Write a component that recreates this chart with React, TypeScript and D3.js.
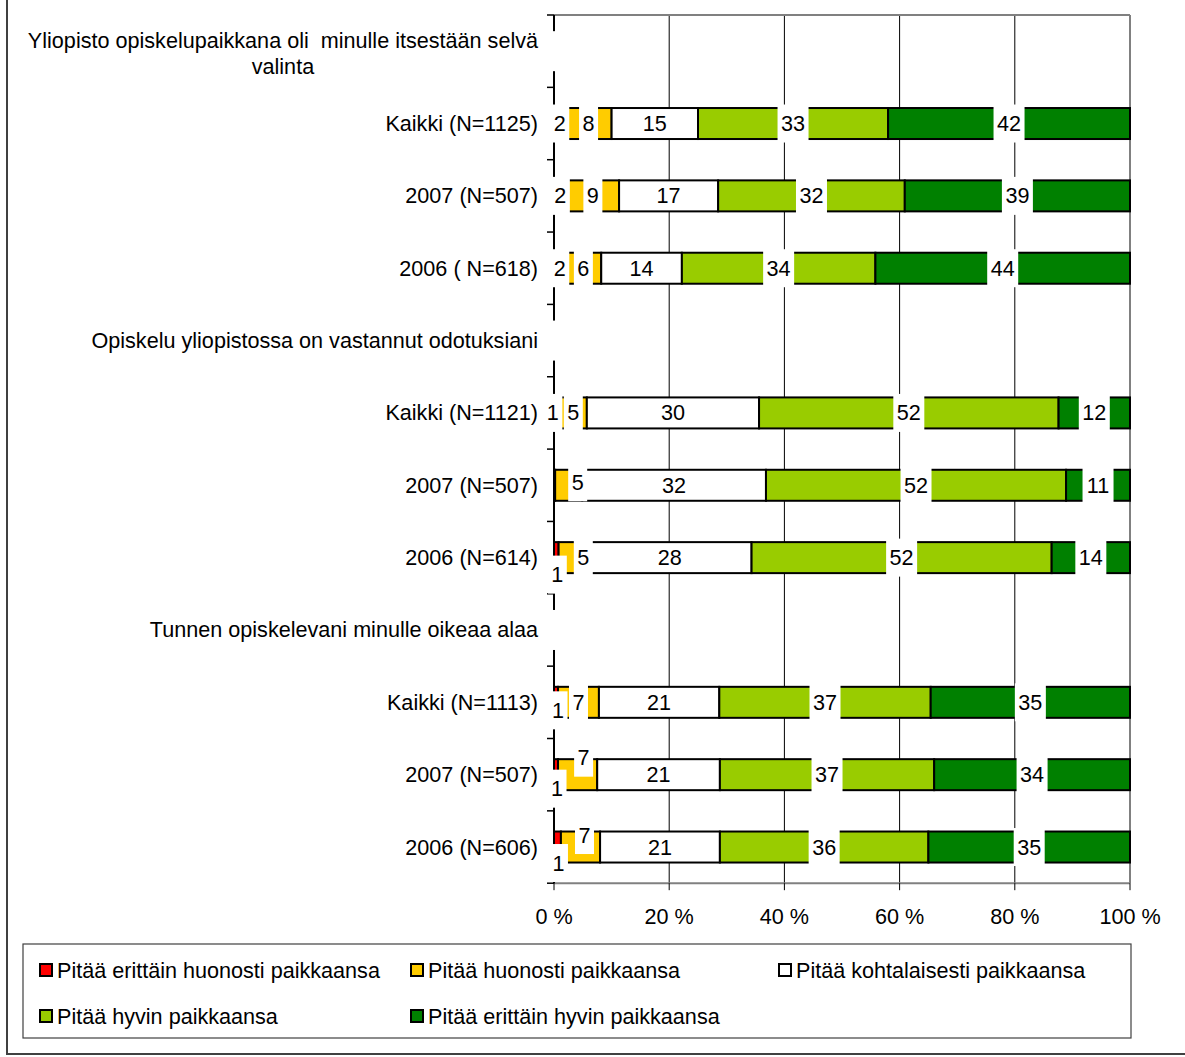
import React, { useLayoutEffect, useRef, useState } from 'react';
import * as d3 from 'd3';

// ---- data ----
const categories = [
  'Yliopisto opiskelupaikkana oli  minulle itsestään selvä\nvalinta',
  'Kaikki (N=1125)',
  '2007 (N=507)',
  '2006 ( N=618)',
  'Opiskelu yliopistossa on vastannut odotuksiani',
  'Kaikki (N=1121)',
  '2007 (N=507)',
  '2006 (N=614)',
  'Tunnen opiskelevani minulle oikeaa alaa',
  'Kaikki (N=1113)',
  '2007 (N=507)',
  '2006 (N=606)',
];

const seriesNames = [
  'Pitää erittäin huonosti paikkaansa',
  'Pitää huonosti paikkaansa',
  'Pitää kohtalaisesti paikkaansa',
  'Pitää hyvin paikkaansa',
  'Pitää erittäin hyvin paikkaansa',
];

const veryPoor = [null, 2, 2.2, 2, null, 1, 0.2, 0.8, null, 0.7, 0.7, 1.2];
const poor = [null, 8, 9.1, 6.2, null, 4.7, 4.7, 5.1, null, 7.1, 6.8, 6.8];
const moderate = [null, 15, 17.2, 14, null, 29.9, 31.9, 28.4, null, 20.9, 21.3, 20.8];
const good = [null, 33, 32.4, 33.6, null, 52, 52.1, 52.1, null, 36.7, 37.2, 36.2];
const veryGood = [null, 42, 39.1, 44.2, null, 12.4, 11.1, 13.6, null, 34.6, 34.0, 35.0];

const tickValues = [0, 20, 40, 60, 80, 100];
const tickLabels = ['0 %', '20 %', '40 %', '60 %', '80 %', '100 %'];

// ---- styling / layout ----
const seriesColors = ['#FF0000', '#FFCC00', '#FFFFFF', '#99CC00', '#008000'];
const FONT = '"Liberation Sans", Arial, sans-serif';
const FS = 21.6;
// nudges for overlapping small labels: key `${row}-${series}` -> [dx, dy]
const labelNudge: Record<string, [number, number]> = {
  '5-0': [-4, 0],
  '6-1': [9, -3],
  '7-0': [1, 17],
  '7-1': [10, 0],
  '9-0': [2, 8],
  '10-0': [1, 14],
  '10-1': [6, -17],
  '11-0': [1, 16],
  '11-1': [4, -12],
};

const keys = ['s0', 's1', 's2', 's3', 's4'];
const seriesArrays = [veryPoor, poor, moderate, good, veryGood];

export default function App() {
  const W = 1185;
  const H = 1057;
  const x = d3.scaleLinear().domain([0, 100]).range([554, 1130]);
  const y = d3
    .scaleBand<number>()
    .domain(d3.range(categories.length))
    .range([15, 883.2]);
  const bw = y.bandwidth();
  const barH = 31;
  const yc = (i: number) => (y(i) as number) + bw / 2;

  const table = categories.map((c, i) => {
    const o: any = { i };
    keys.forEach((k, j) => (o[k] = seriesArrays[j][i] ?? 0));
    return o;
  });
  const stacked = d3.stack<any>().keys(keys)(table);
  const isHeader = (i: number) => veryPoor[i] === null;

  const line1Ref = useRef<SVGTextElement>(null);
  const [line1W, setLine1W] = useState(508);
  useLayoutEffect(() => {
    if (line1Ref.current) setLine1W(line1Ref.current.getComputedTextLength());
  }, []);

  const labelRight = 538;
  const yBottom = 883.2;
  const yTop = 15;

  const legendCols = [57, 428, 796];
  const legendRows = [970, 1016];

  return (
    <svg
      width={W}
      height={H}
      style={{ position: 'absolute', left: 0, top: 0, background: '#fff' }}
      fontFamily={FONT}
    >
      <rect x={0} y={0} width={W} height={H} fill="#fff" />
      {/* outer frame */}
      <rect x={7} y={-5} width={1190} height={1059} fill="none" stroke="#404040" strokeWidth={2} />

      {/* gridlines */}
      {tickValues.slice(1, -1).map((t) => (
        <line key={t} x1={x(t)} x2={x(t)} y1={yTop} y2={yBottom} stroke="#000" strokeWidth={1} />
      ))}
      {/* plot border top/right */}
      <line x1={x(0)} x2={x(100)} y1={yTop} y2={yTop} stroke="#808080" strokeWidth={2} />
      <line x1={x(100)} x2={x(100)} y1={yTop} y2={yBottom} stroke="#808080" strokeWidth={2} />

      {/* x axis */}
      <line x1={x(0)} x2={x(100)} y1={yBottom} y2={yBottom} stroke="#808080" strokeWidth={2} />
      {tickValues.map((t) => (
        <line key={t} x1={x(t)} x2={x(t)} y1={yBottom} y2={yBottom + 7} stroke="#000" strokeWidth={1} />
      ))}
      {tickValues.map((t, i) => (
        <text key={t} x={x(t)} y={916} fontSize={FS} textAnchor="middle" dominantBaseline="central" fill="#000">
          {tickLabels[i]}
        </text>
      ))}

      {/* bars */}
      {stacked.map((s, j) =>
        s.map((d, i) =>
          isHeader(i) || d[1] - d[0] <= 0 ? null : (
            <rect
              key={`${j}-${i}`}
              x={x(d[0])}
              y={yc(i) - barH / 2}
              width={x(d[1]) - x(d[0])}
              height={barH}
              fill={seriesColors[j]}
              stroke="#000"
              strokeWidth={2}
            />
          )
        )
      )}

      {/* left axis */}
      <line x1={x(0)} x2={x(0)} y1={yTop} y2={yBottom} stroke="#000" strokeWidth={2} />
      {d3.range(categories.length + 1).map((k) => {
        const yy = yTop + k * bw;
        return <line key={k} x1={x(0) - 7} x2={x(0)} y1={yy} y2={yy} stroke="#000" strokeWidth={1.5} />;
      })}
      {/* empty label boxes on header rows */}
      {categories.map((c, i) =>
        isHeader(i) ? (
          <rect key={i} x={x(0) - 4} y={yc(i) - 20} width={10} height={40} fill="#fff" />
        ) : null
      )}

      {/* data labels */}
      {stacked.map((s, j) =>
        s.map((d, i) => {
          const v = d[1] - d[0];
          if (isHeader(i) || v < 0.5) return null;
          const txt = String(Math.round(v));
          const n = labelNudge[`${i}-${j}`] || [0, 0];
          const cx = x((d[0] + d[1]) / 2) + n[0];
          const cy = yc(i) + n[1];
          const w = txt.length * 12 + 7;
          return (
            <g key={`l${j}-${i}`}>
              {j !== 2 && <rect x={cx - w / 2} y={cy - 19} width={w} height={38} fill="#fff" />}
              <text x={cx} y={cy} fontSize={FS} textAnchor="middle" dominantBaseline="central" fill="#000">
                {txt}
              </text>
            </g>
          );
        })
      )}

      {/* category labels */}
      {categories.map((c, i) => {
        const lines = c.split('\n');
        if (lines.length === 1) {
          return (
            <text key={i} x={labelRight} y={yc(i)} fontSize={FS} textAnchor="end" dominantBaseline="central" fill="#000" style={{ whiteSpace: 'pre' }}>
              {c}
            </text>
          );
        }
        return (
          <g key={i}>
            <text ref={line1Ref} x={labelRight} y={yc(i) - 11} fontSize={FS} textAnchor="end" dominantBaseline="central" fill="#000" style={{ whiteSpace: 'pre' }}>
              {lines[0]}
            </text>
            <text x={labelRight - line1W / 2} y={yc(i) + 15} fontSize={FS} textAnchor="middle" dominantBaseline="central" fill="#000">
              {lines[1]}
            </text>
          </g>
        );
      })}

      {/* legend */}
      <rect x={23} y={944} width={1108} height={94} fill="#fff" stroke="#404040" strokeWidth={1.2} />
      {seriesNames.map((name, k) => {
        const r = Math.floor(k / 3);
        const c = k % 3;
        const tx = legendCols[c];
        const ty = legendRows[r];
        return (
          <g key={name}>
            <rect x={tx - 17} y={ty - 6} width={12} height={12} fill={seriesColors[k]} stroke="#000" strokeWidth={2} />
            <text x={tx} y={ty} fontSize={FS} dominantBaseline="central" fill="#000">
              {name}
            </text>
          </g>
        );
      })}
    </svg>
  );
}
